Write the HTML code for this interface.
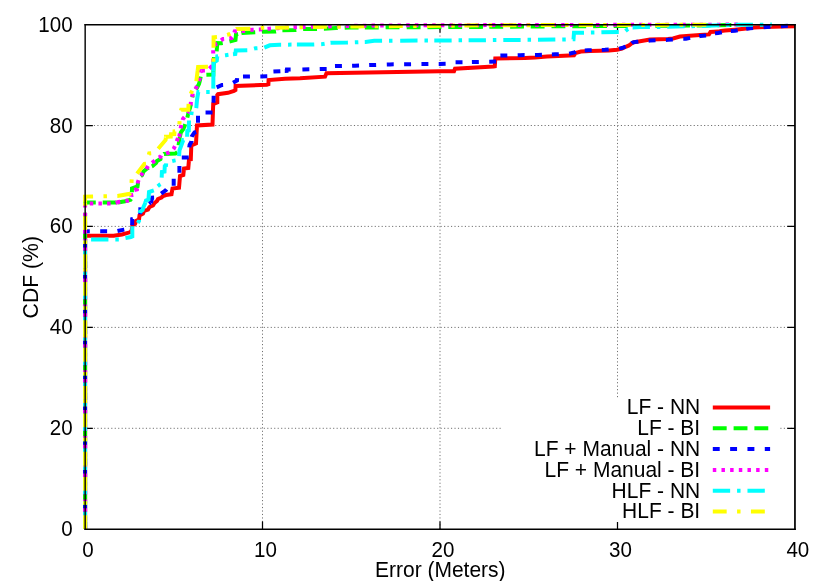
<!DOCTYPE html>
<html><head><meta charset="utf-8"><title>CDF</title>
<style>
html,body{margin:0;padding:0;background:#fff;}
body{width:830px;height:581px;overflow:hidden;font-family:"Liberation Sans",sans-serif;}
svg{display:block;will-change:transform;}
text{font-family:"Liberation Sans",sans-serif;font-size:21px;fill:#000;}
</style></head><body>
<svg width="830" height="581" viewBox="0 0 830 581">
<rect width="830" height="581" fill="#fff"/>

<g stroke="#707070" stroke-width="1" stroke-dasharray="1.15 2.317" fill="none">
<path stroke-dashoffset="-0.25" d="M262.50 529.17 V24.77"/>
<path stroke-dashoffset="-0.25" d="M440.00 529.17 V24.77"/>
<path stroke-dashoffset="-0.25" d="M617.50 529.17 V24.77"/>
<path stroke-dashoffset="-1.8" d="M85.16 428.30 H794.95"/>
<path stroke-dashoffset="-1.8" d="M85.16 327.40 H794.95"/>
<path stroke-dashoffset="-1.8" d="M85.16 226.40 H794.95"/>
<path stroke-dashoffset="-1.8" d="M85.16 125.50 H794.95"/>
</g>
<g stroke="#000" stroke-width="1.25" fill="none">
<path d="M262.50 529.17 v-7.7 M262.50 24.77 v7.7"/>
<path d="M440.00 529.17 v-7.7 M440.00 24.77 v7.7"/>
<path d="M617.50 529.17 v-7.7 M617.50 24.77 v7.7"/>
<path d="M85.16 428.30 h7.7 M794.95 428.30 h-7.7"/>
<path d="M85.16 327.40 h7.7 M794.95 327.40 h-7.7"/>
<path d="M85.16 226.40 h7.7 M794.95 226.40 h-7.7"/>
<path d="M85.16 125.50 h7.7 M794.95 125.50 h-7.7"/>
</g>
<g fill="none" stroke-width="4" stroke-linejoin="miter" stroke-linecap="butt">
<path stroke="#ff0000" d="M85.1 529.0 L85.1 235.8 L113.7 235.8 L122.0 234.5 L129.8 232.3 L131.5 231.0 L132.5 225.0 L135.0 224.0 L136.0 221.0 L139.0 219.5 L139.5 215.5 L143.0 213.5 L144.0 211.0 L148.0 209.5 L149.5 207.0 L153.0 205.5 L154.5 203.0 L157.0 201.0 L158.0 199.0 L161.5 197.5 L163.0 196.0 L166.0 195.0 L171.5 194.2 L172.5 188.5 L179.0 187.8 L180.0 176.0 L183.3 175.0 L184.0 168.5 L188.3 168.0 L189.0 159.5 L190.8 159.3 L191.3 145.5 L196.0 143.5 L197.0 125.5 L212.5 124.5 L213.2 104.0 L215.5 103.2 L217.3 102.5 L217.3 95.0 L218.0 94.2 L228.0 92.8 L234.0 90.8 L235.4 90.0 L235.6 85.9 L266.7 84.8 L268.4 84.3 L268.6 80.0 L285.0 78.8 L300.0 78.3 L325.0 76.7 L326.5 73.2 L440.0 71.3 L454.0 71.3 L455.0 68.7 L493.5 66.5 L494.8 66.3 L495.3 58.4 L525.0 58.0 L535.0 57.5 L547.0 56.6 L564.0 55.8 L574.0 55.2 L575.5 53.0 L581.0 51.6 L590.0 51.1 L609.0 50.4 L617.0 49.7 L622.0 48.5 L626.3 46.5 L629.0 45.5 L632.2 43.0 L634.0 42.2 L637.2 41.7 L650.0 39.6 L668.0 38.9 L673.0 38.5 L680.0 36.5 L700.0 34.9 L709.0 34.4 L710.5 32.0 L718.0 31.6 L721.0 31.0 L725.0 30.5 L735.0 29.7 L744.0 28.8 L754.0 27.6 L764.0 27.1 L783.0 26.6 L795.0 26.3"/>
<g stroke="#00ff00" stroke-dasharray="13.87 6.93">
<path d="M85.1 529.0 L85.1 465.5"/>
<path d="M85.1 465.5 L85.1 399.8"/>
<path d="M85.1 399.8 L85.1 334.0"/>
<path d="M85.1 334.0 L85.1 268.2"/>
<path d="M85.1 268.2 L85.1 202.6 L117.5 202.6 L118.0 202.5"/>
<path d="M118.0 202.5 L125.0 201.2 L130.6 199.7 L131.8 198.0 L132.0 188.5 L137.5 186.5 L138.3 181.0 L139.0 177.5 L142.0 175.3 L143.5 171.5 L147.0 168.5 L148.8 167.6"/>
<path stroke-dashoffset="17.52" d="M148.8 167.6 L150.0 167.0 L151.8 166.3 L152.5 166.0 L156.0 163.0 L157.0 161.0 L160.5 159.0 L161.0 157.8"/>
<path stroke-dashoffset="15.92" d="M161.0 157.8 L161.5 156.5 L164.0 154.0 L164.0 154.0 L175.5 153.5 L177.5 152.0 L178.5 146.0 L179.4 139.2 L179.9 136.8"/>
<path d="M179.9 136.8 L180.8 132.5 L183.3 129.0 L184.6 126.0 L187.0 119.0 L188.8 111.4 L190.0 108.0 L192.8 95.3 L193.0 94.9"/>
<path stroke-dashoffset="14.57" d="M193.0 94.9 L196.0 89.5 L199.0 84.0 L200.0 80.0 L200.8 76.0 L201.3 74.8 L213.3 74.5 L213.4 71.0"/>
<path d="M213.4 71.0 L214.0 56.0 L216.5 54.0 L217.3 43.0 L221.2 43.2 L227.5 42.0 L235.5 40.0 L236.0 34.5 L238.4 33.9"/>
<path stroke-dashoffset="17.72" d="M238.4 33.9 L241.4 33.2 L242.0 33.1 L255.4 32.2 L262.0 31.7 L275.8 31.5 L279.4 30.8"/>
<path stroke-dashoffset="17.74" d="M279.4 30.8 L282.4 30.2 L282.4 30.2 L295.7 30.0 L303.0 29.0 L316.7 28.9 L320.9 28.8"/>
<path stroke-dashoffset="17.80" d="M320.9 28.8 L323.9 28.7 L324.0 28.7 L336.0 28.1 L350.0 27.6 L361.8 27.5"/>
<path stroke-dashoffset="17.80" d="M361.8 27.5 L364.8 27.5 L400.0 27.2 L403.7 27.2"/>
<path stroke-dashoffset="17.80" d="M403.7 27.2 L406.7 27.2 L440.0 27.1 L480.0 26.9 L486.3 26.8"/>
<path stroke-dashoffset="17.80" d="M486.3 26.8 L489.3 26.8 L527.7 26.5"/>
<path stroke-dashoffset="17.80" d="M527.7 26.5 L530.7 26.5 L540.0 26.4 L600.0 26.1 L610.7 26.0"/>
<path stroke-dashoffset="17.80" d="M610.7 26.0 L613.7 26.0 L660.0 25.8 L693.7 25.5"/>
<path stroke-dashoffset="17.80" d="M693.7 25.5 L696.7 25.4 L700.0 25.4 L732.0 24.9"/>
</g>
<g stroke="#0000ff" stroke-dasharray="6.93 10.40">
<path d="M85.1 529.0 L85.1 465.5"/>
<path d="M85.1 465.5 L85.1 399.8"/>
<path d="M85.1 399.8 L85.1 334.0"/>
<path d="M85.1 334.0 L85.1 268.2"/>
<path d="M85.1 268.2 L85.1 231.3 L116.5 231.3 L124.0 229.6 L131.0 228.3 L132.2 227.0 L132.2 219.0 L140.2 217.2 L140.4 206.0 L147.5 204.6 L150.6 202.6 L150.8 202.5"/>
<path d="M150.8 202.5 L150.9 202.4 L152.3 197.6 L160.4 197.4 L160.6 194.0 L166.0 190.0 L166.7 189.0 L173.6 188.9 L173.7 185.9 L173.7 176.5 L179.2 175.3 L179.4 173.5 L179.4 158.0 L180.5 157.5 L189.0 157.5 L189.3 147.0 L189.6 145.0 L191.5 141.5 L191.5 137.7 L191.7 136.8"/>
<path d="M191.7 136.8 L191.8 136.5 L194.5 132.5 L197.8 131.5 L198.0 124.2 L198.0 113.0 L204.5 112.6 L213.0 112.6 L213.5 103.5 L213.8 88.5 L215.5 87.8 L222.0 85.0 L230.0 84.5 L231.0 84.0 L237.0 80.5 L237.2 76.7 L240.0 76.7"/>
<path stroke-dashoffset="14.33" d="M240.0 76.7 L243.0 76.6 L243.0 76.6 L267.0 76.3 L272.6 76.2 L273.0 71.6 L284.6 71.0 L284.8 71.0"/>
<path d="M284.8 71.0 L284.9 71.0 L286.7 70.9 L286.9 69.6 L292.0 69.6 L299.4 69.5"/>
<path stroke-dashoffset="14.33" d="M299.4 69.5 L302.4 69.4 L327.0 69.0 L328.5 66.2 L332.0 66.1"/>
<path stroke-dashoffset="14.33" d="M332.0 66.1 L335.0 66.1 L338.0 66.0 L349.1 65.8"/>
<path stroke-dashoffset="14.33" d="M349.1 65.8 L352.1 65.8 L355.0 65.7 L366.2 65.3"/>
<path stroke-dashoffset="14.33" d="M366.2 65.3 L369.2 65.1 L373.0 65.0 L383.8 64.6"/>
<path stroke-dashoffset="14.33" d="M383.8 64.6 L386.8 64.5 L390.0 64.4 L435.7 64.0"/>
<path stroke-dashoffset="14.33" d="M435.7 64.0 L438.7 64.0 L440.0 64.0 L452.0 63.6 L454.0 62.2 L468.9 62.1"/>
<path stroke-dashoffset="14.33" d="M468.9 62.1 L471.9 62.1 L478.0 62.0 L496.8 61.6 L497.2 55.6 L497.4 55.6"/>
<path stroke-dashoffset="14.33" d="M497.4 55.6 L500.4 55.5 L514.7 55.3"/>
<path stroke-dashoffset="14.33" d="M514.7 55.3 L517.7 55.2 L520.0 55.2 L532.0 55.0"/>
<path stroke-dashoffset="14.33" d="M532.0 55.0 L535.0 55.0 L538.0 54.9 L548.9 54.5"/>
<path stroke-dashoffset="14.33" d="M548.9 54.5 L551.9 54.4 L555.0 54.3 L566.2 53.9"/>
<path stroke-dashoffset="14.33" d="M566.2 53.9 L569.0 53.8 L569.2 53.8 L574.5 52.5 L576.0 51.5 L581.8 50.8"/>
<path stroke-dashoffset="14.32" d="M581.8 50.8 L584.0 50.5 L584.8 50.5 L588.0 50.3 L598.8 50.0"/>
<path stroke-dashoffset="14.33" d="M598.8 50.0 L601.8 49.9 L605.0 49.8 L616.1 49.2"/>
<path stroke-dashoffset="14.28" d="M616.1 49.2 L617.0 49.1 L619.1 48.6 L622.0 48.0 L626.3 46.2 L628.7 45.3"/>
<path stroke-dashoffset="13.64" d="M628.7 45.3 L629.0 45.2 L631.7 43.2 L632.2 42.8 L634.0 42.1 L637.2 41.8 L645.6 41.0"/>
<path stroke-dashoffset="14.32" d="M645.6 41.0 L648.6 40.7 L650.0 40.6 L662.9 40.0"/>
<path stroke-dashoffset="14.33" d="M662.9 40.0 L665.9 39.9 L668.0 39.8 L673.0 39.5 L680.0 38.7 L680.3 38.7"/>
<path stroke-dashoffset="14.34" d="M680.3 38.7 L683.3 38.7 L686.0 38.7 L696.2 36.7"/>
<path stroke-dashoffset="14.28" d="M696.2 36.7 L699.2 36.2 L700.0 36.0 L709.0 35.3 L710.5 33.5 L712.0 33.4"/>
<path stroke-dashoffset="14.33" d="M712.0 33.4 L715.0 33.2 L718.0 33.0 L725.0 31.5 L727.8 31.3"/>
<path stroke-dashoffset="14.33" d="M727.8 31.3 L730.8 31.1 L735.0 30.8 L743.2 29.4"/>
<path stroke-dashoffset="14.29" d="M743.2 29.4 L746.2 28.9 L750.0 28.3 L760.6 27.4"/>
<path stroke-dashoffset="14.32" d="M760.6 27.4 L763.6 27.2 L767.0 26.9 L777.9 26.3"/>
<path stroke-dashoffset="14.33" d="M777.9 26.3 L780.9 26.2 L784.0 26.0 L795.0 25.6"/>
</g>
<g stroke="#ff00ff" stroke-dasharray="3.47 5.20">
<path d="M85.1 529.0 L85.1 465.5"/>
<path d="M85.1 465.5 L85.1 399.8"/>
<path d="M85.1 399.8 L85.1 334.0"/>
<path d="M85.1 334.0 L85.1 268.2"/>
<path d="M85.1 268.2 L85.1 203.5 L114.0 203.5 L116.9 202.5"/>
<path d="M116.9 202.5 L118.4 202.0 L128.5 200.5 L130.8 199.8 L131.3 195.2 L133.5 194.8 L134.2 190.0 L137.0 189.3 L137.9 182.2 L139.0 179.0 L140.0 176.1 L142.0 174.0 L143.5 171.5 L145.8 170.0 L148.0 166.0 L149.7 164.5 L153.0 162.0 L155.4 160.3 L158.0 157.5 L160.6 156.7 L161.5 155.3 L165.0 154.0 L168.5 152.7 L172.0 151.0 L173.6 148.9 L175.0 146.0 L176.1 142.6 L178.0 138.0 L178.9 136.8"/>
<path d="M178.9 136.8 L179.5 135.8 L180.0 131.0 L180.8 127.4 L182.0 122.0 L182.9 119.0 L185.0 116.5 L187.1 115.2 L189.0 112.0 L190.5 108.4 L191.0 100.4 L193.0 93.0 L196.6 86.9 L199.5 79.3 L200.4 71.3 L201.5 71.0"/>
<path d="M201.5 71.0 L203.0 70.6 L207.5 70.4 L210.0 68.0 L211.3 66.5 L213.2 66.2 L213.2 48.7 L214.0 45.0 L217.4 43.6 L220.0 41.0 L222.9 39.0 L231.7 38.1 L233.5 36.0 L234.7 31.4 L238.6 31.2"/>
<path stroke-dashoffset="5.66" d="M238.6 31.2 L241.6 31.1 L243.1 31.0 L252.4 29.7 L259.2 29.5 L269.2 28.7 L278.2 28.2 L295.0 27.2 L312.0 26.8 L325.2 26.4"/>
<path stroke-dashoffset="5.67" d="M325.2 26.4 L328.2 26.4 L330.0 26.3 L375.0 25.5 L440.0 25.2 L480.2 25.2"/>
<path stroke-dashoffset="5.67" d="M480.2 25.2 L483.2 25.2 L485.0 25.1 L600.0 24.9 L670.6 24.7"/>
<path stroke-dashoffset="5.67" d="M670.6 24.7 L673.6 24.7 L738.5 24.6"/>
</g>
<g stroke="#00ffff" stroke-dasharray="17.34 6.93 3.47 6.93">
<path d="M85.1 529.0 L85.1 465.5"/>
<path d="M85.1 465.5 L85.1 399.8"/>
<path d="M85.1 399.8 L85.1 334.0"/>
<path d="M85.1 334.0 L85.1 268.2"/>
<path d="M85.1 268.2 L85.1 239.5 L120.5 239.5 L125.0 238.0 L131.0 237.0 L132.3 236.5 L132.3 226.0 L133.0 225.0 L137.0 224.3 L139.0 221.0 L139.3 214.5 L139.8 212.0 L142.6 210.0 L143.5 207.0 L145.0 203.5 L145.5 202.5"/>
<path d="M145.5 202.5 L145.5 202.5 L146.0 200.5 L148.5 199.5 L149.0 192.0 L154.0 190.3 L156.5 190.0 L157.0 186.8 L160.0 184.5 L161.3 183.8 L161.7 177.0 L161.9 172.0 L164.5 171.5 L164.8 166.0 L166.0 165.5 L166.2 162.6 L172.0 161.2 L175.3 160.4 L178.8 159.8 L179.0 157.3 L179.5 150.2 L183.3 140.0 L187.0 139.8 L187.1 136.8"/>
<path d="M187.1 136.8 L187.1 136.8 L187.3 131.0 L188.8 130.5 L189.0 120.5 L189.2 118.0 L191.0 117.5 L191.3 115.0 L191.7 111.6 L192.0 110.0 L196.0 109.5 L196.3 108.0 L197.0 100.0 L198.3 92.0 L213.2 92.0 L213.3 88.3 L213.4 71.0"/>
<path d="M213.4 71.0 L213.4 71.0 L213.6 62.5 L216.8 60.5 L217.3 56.3 L225.8 55.2 L230.0 54.6"/>
<path stroke-dashoffset="31.64" d="M230.0 54.6 L233.0 54.2 L233.0 54.2 L235.3 54.0 L235.8 50.5 L248.0 50.2 L255.4 48.3 L261.3 47.9"/>
<path stroke-dashoffset="31.66" d="M261.3 47.9 L264.3 47.7 L264.3 47.7 L269.8 45.3 L279.4 44.7 L293.9 44.6"/>
<path stroke-dashoffset="31.67" d="M293.9 44.6 L296.9 44.6 L313.7 44.5 L322.8 44.1 L327.6 43.3"/>
<path stroke-dashoffset="31.63" d="M327.6 43.3 L330.6 42.8 L330.8 42.8 L347.5 42.6 L361.8 42.0"/>
<path stroke-dashoffset="31.67" d="M361.8 42.0 L364.8 41.9 L365.5 41.9 L374.2 40.8 L397.2 40.7"/>
<path stroke-dashoffset="31.67" d="M397.2 40.7 L400.2 40.7 L431.3 40.5"/>
<path stroke-dashoffset="31.67" d="M431.3 40.5 L434.3 40.5 L440.0 40.5 L465.6 40.3"/>
<path stroke-dashoffset="31.67" d="M465.6 40.3 L468.6 40.3 L500.3 40.0"/>
<path stroke-dashoffset="31.67" d="M500.3 40.0 L503.3 40.0 L535.0 39.8"/>
<path stroke-dashoffset="31.67" d="M535.0 39.8 L538.0 39.7 L555.0 39.6 L573.5 39.3 L574.0 32.8 L598.4 32.4"/>
<path stroke-dashoffset="31.67" d="M598.4 32.4 L601.4 32.3 L618.8 32.0 L625.0 31.5 L628.0 29.0 L629.6 28.4"/>
<path stroke-dashoffset="31.48" d="M629.6 28.4 L632.0 27.4 L632.6 27.4 L640.0 27.1 L660.0 26.9 L700.0 26.0 L732.6 24.9"/>
<path stroke-dashoffset="31.67" d="M732.6 24.9 L735.6 24.8 L736.0 24.8 L771.8 24.6"/>
</g>
<g stroke="#ffff00" stroke-dasharray="13.87 10.40 3.47 10.40">
<path d="M85.1 529.0 L85.1 465.5"/>
<path d="M85.1 465.5 L85.1 399.8"/>
<path d="M85.1 399.8 L85.1 334.0"/>
<path d="M85.1 334.0 L85.1 268.2"/>
<path d="M85.1 268.2 L85.1 202.5"/>
<path d="M85.1 202.5 L85.1 196.6 L117.5 196.0 L129.8 193.8 L131.0 193.0 L131.5 183.0 L131.7 178.9 L136.4 178.7 L136.6 174.2 L144.4 163.8 L147.6 163.5 L148.3 157.0 L149.2 153.4 L157.2 152.8 L157.4 149.6 L165.6 140.0 L166.0 136.8"/>
<path d="M166.0 136.8 L166.0 136.7 L170.8 136.5 L171.0 134.2 L174.3 134.0 L174.5 131.3 L176.6 131.2 L176.8 127.0 L179.2 126.8 L179.4 124.0 L179.6 120.5 L180.5 112.0 L181.2 109.8 L188.3 109.7 L188.7 101.6 L190.0 96.0 L191.5 92.0 L194.0 87.0 L196.1 83.0 L197.6 71.0"/>
<path d="M197.6 71.0 L198.1 67.0 L213.4 66.6 L213.6 37.3 L218.7 36.9 L229.2 34.3 L233.6 32.2"/>
<path stroke-dashoffset="33.88" d="M233.6 32.2 L234.0 32.0 L236.6 29.2 L236.8 29.0 L250.7 28.8 L262.5 27.8 L272.2 27.7"/>
<path stroke-dashoffset="35.14" d="M272.2 27.7 L275.2 27.7 L289.0 27.5 L301.0 27.2 L310.0 27.1"/>
<path stroke-dashoffset="35.14" d="M310.0 27.1 L313.0 27.0 L327.6 26.8 L347.4 26.6"/>
<path stroke-dashoffset="35.14" d="M347.4 26.6 L350.4 26.5 L360.0 26.4 L385.9 26.2"/>
<path stroke-dashoffset="35.14" d="M385.9 26.2 L388.9 26.2 L400.0 26.1 L440.0 25.8 L461.4 25.5"/>
<path stroke-dashoffset="35.14" d="M461.4 25.5 L464.4 25.5 L480.0 25.3 L499.6 25.3"/>
<path stroke-dashoffset="35.14" d="M499.6 25.3 L502.6 25.2 L520.0 25.2 L537.8 25.2"/>
<path stroke-dashoffset="35.14" d="M537.8 25.2 L540.8 25.1 L600.0 25.0 L652.3 24.9"/>
<path stroke-dashoffset="35.14" d="M652.3 24.9 L655.3 24.9 L660.0 24.9 L689.4 24.8"/>
<path stroke-dashoffset="35.14" d="M689.4 24.8 L692.4 24.8 L708.0 24.7"/>
</g>
<rect x="502" y="398" width="278" height="124" fill="#fff" stroke="none"/>
<path stroke="#ff0000" d="M712.8 407.5 H770.1"/>
<path stroke="#00ff00" stroke-dasharray="13.87 6.93" d="M712.8 428.3 H770.1"/>
<path stroke="#0000ff" stroke-dasharray="6.93 10.40" d="M712.8 449.1 H770.1"/>
<path stroke="#ff00ff" stroke-dasharray="3.47 5.20" d="M712.8 469.9 H770.1"/>
<path stroke="#00ffff" stroke-dasharray="17.34 6.93 3.47 6.93" d="M712.8 490.7 H770.1"/>
<path stroke="#ffff00" stroke-dasharray="13.87 10.40 3.47 10.40" d="M712.8 511.5 H770.1"/>
</g>
<path d="M85.16 529.89 V24.04" stroke="#000" stroke-width="1.42" fill="none"/>
<path d="M794.95 529.89 V24.04" stroke="#000" stroke-width="1.72" fill="none"/>
<path d="M84.45 24.77 H795.8100000000001" stroke="#000" stroke-width="1.47" fill="none"/>
<path d="M84.45 529.17 H795.8100000000001" stroke="#000" stroke-width="1.45" fill="none"/>
<text transform="translate(72.6 536.02) scale(0.98 1.07)" text-anchor="end">0</text>
<text transform="translate(72.6 435.14) scale(0.98 1.07)" text-anchor="end">20</text>
<text transform="translate(72.6 334.26) scale(0.98 1.07)" text-anchor="end">40</text>
<text transform="translate(72.6 233.38) scale(0.98 1.07)" text-anchor="end">60</text>
<text transform="translate(72.6 132.50) scale(0.98 1.07)" text-anchor="end">80</text>
<text transform="translate(72.6 31.62) scale(0.98 1.07)" text-anchor="end">100</text>
<text transform="translate(88.06 557.0) scale(0.98 1.07)" text-anchor="middle">0</text>
<text transform="translate(265.51 557.0) scale(0.98 1.07)" text-anchor="middle">10</text>
<text transform="translate(442.96 557.0) scale(0.98 1.07)" text-anchor="middle">20</text>
<text transform="translate(620.40 557.0) scale(0.98 1.07)" text-anchor="middle">30</text>
<text transform="translate(797.85 557.0) scale(0.98 1.07)" text-anchor="middle">40</text>
<text transform="translate(440.3 577.2) scale(1 1.03)" text-anchor="middle">Error (Meters)</text>
<text transform="translate(37.9 277.2) rotate(-90) scale(1 1.03)" text-anchor="middle" style="font-size:21.2px">CDF (%)</text>
<text transform="translate(700.2 414.45) scale(1 1.03)" text-anchor="end">LF - NN</text>
<text transform="translate(700.2 435.25) scale(1 1.03)" text-anchor="end">LF - BI</text>
<text transform="translate(700.2 456.05) scale(1 1.03)" text-anchor="end">LF + Manual - NN</text>
<text transform="translate(700.2 476.85) scale(1 1.03)" text-anchor="end">LF + Manual - BI</text>
<text transform="translate(700.2 497.65) scale(1 1.03)" text-anchor="end">HLF - NN</text>
<text transform="translate(700.2 518.45) scale(1 1.03)" text-anchor="end">HLF - BI</text>
</svg></body></html>
